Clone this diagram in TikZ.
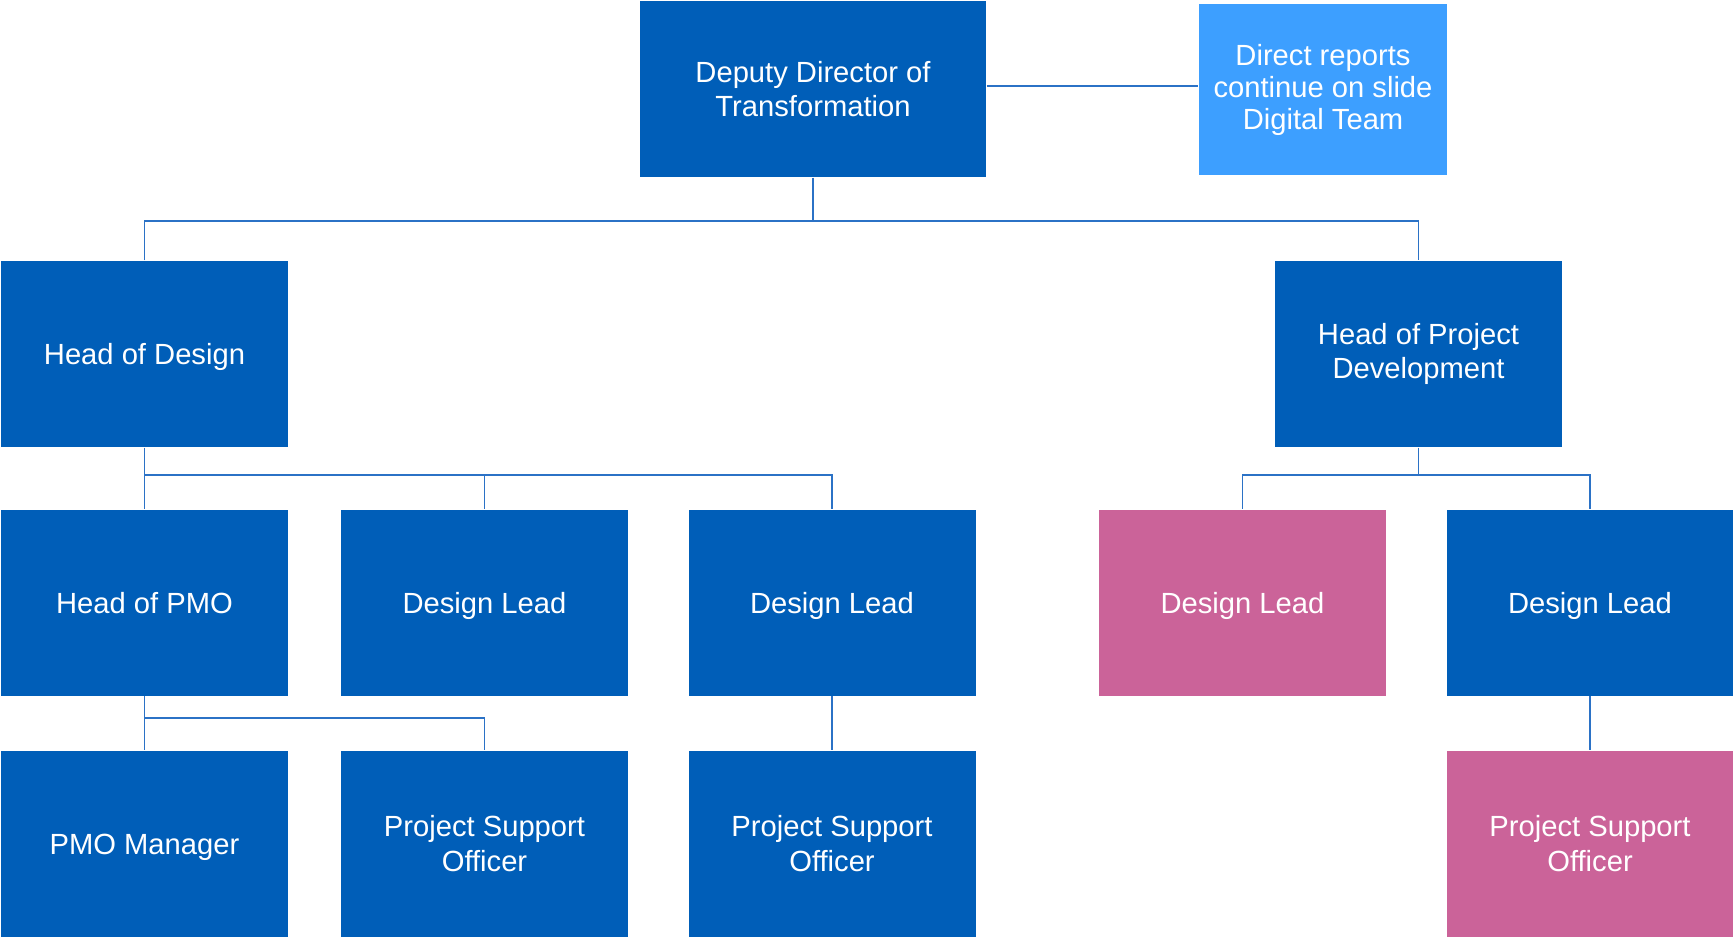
\documentclass[tikz,border=0pt]{standalone}
\usepackage{fontspec}
\setmainfont{Liberation Sans}
\usepackage{tikz}
\usetikzlibrary{positioning, calc}
\definecolor{nhsblue}{HTML}{005EB8}
\definecolor{skyblue}{HTML}{3D9FFF}
\definecolor{rosepink}{HTML}{CB6399}
\definecolor{linkblue}{HTML}{2B72C6}

\begin{document}
\begin{tikzpicture}[
    role/.style={fill=nhsblue, text=white, inner sep=0pt, align=center,
      minimum width=2.87cm, minimum height=1.86cm,
      font=\fontsize{8.3}{9.9}\selectfont},
    solo/.style={text height=6pt, text depth=0pt},
    vacant/.style={role, fill=rosepink},
    link/.style={draw=linkblue, line width=0.45pt}
  ]
  \useasboundingbox (0,0) rectangle (17.33,-9.40);
  % Direccion
  \node[role, minimum width=3.46cm, minimum height=1.76cm, yshift=-0.01cm] (deputy) at (8.13,-0.88) {Deputy Director of\\Transformation};
  \node[role, fill=skyblue, minimum width=2.48cm, minimum height=1.71cm,
    font=\fontsize{8.3}{9.1}\selectfont] (direct) at (13.23,-0.895) {Direct reports\\continue on slide\\Digital Team};
  % Jefes
  \node[role, solo] (hdesign) at (1.445,-3.54) {Head of Design};
  \node[role] (hproj) at (14.185,-3.54) {Head of Project\\Development};
  % Tercer nivel
  \node[role, solo] (hpmo) at (1.445,-6.025) {Head of PMO};
  \node[role, solo] (dlead1) at (4.845,-6.025) {Design Lead};
  \node[role, solo] (dlead2) at (8.32,-6.025) {Design Lead};
  \node[vacant, solo] (dlead3) at (12.425,-6.025) {Design Lead};
  \node[role, solo] (dlead4) at (15.90,-6.025) {Design Lead};
  % Cuarto nivel
  \node[role, solo] (pmom) at (1.445,-8.435) {PMO Manager};
  \node[role] (pso1) at (4.845,-8.435) {Project Support\\Officer};
  \node[role] (pso2) at (8.32,-8.435) {Project Support\\Officer};
  \node[vacant] (pso3) at (15.90,-8.435) {Project Support\\Officer};
  % Buses
  \coordinate (busA) at (8.13,-2.21);
  \coordinate (busB) at (1.445,-4.75);
  \coordinate (busD) at (1.445,-7.18);
  % Conectores
  \draw[link] (deputy.east |- 0,-0.86) -- (direct.west |- 0,-0.86);
  \draw[link] (deputy) -- (busA);
  \draw[link] (hdesign.north) |- (busA) -| (hproj.north);
  \draw[link] (hdesign) -- (hpmo);
  \draw[link] (busB) -| (dlead1.north);
  \draw[link] (busB) -| (dlead2.north);
  \draw[link] (hproj) -- (hproj.south |- busB);
  \draw[link] (dlead3.north) |- (hproj.south |- busB) -| (dlead4.north);
  \draw[link] (hpmo) -- (pmom);
  \draw[link] (busD) -| (pso1.north);
  \draw[link] (dlead2) -- (pso2);
  \draw[link] (dlead4) -- (pso3);
\end{tikzpicture}
\end{document}
